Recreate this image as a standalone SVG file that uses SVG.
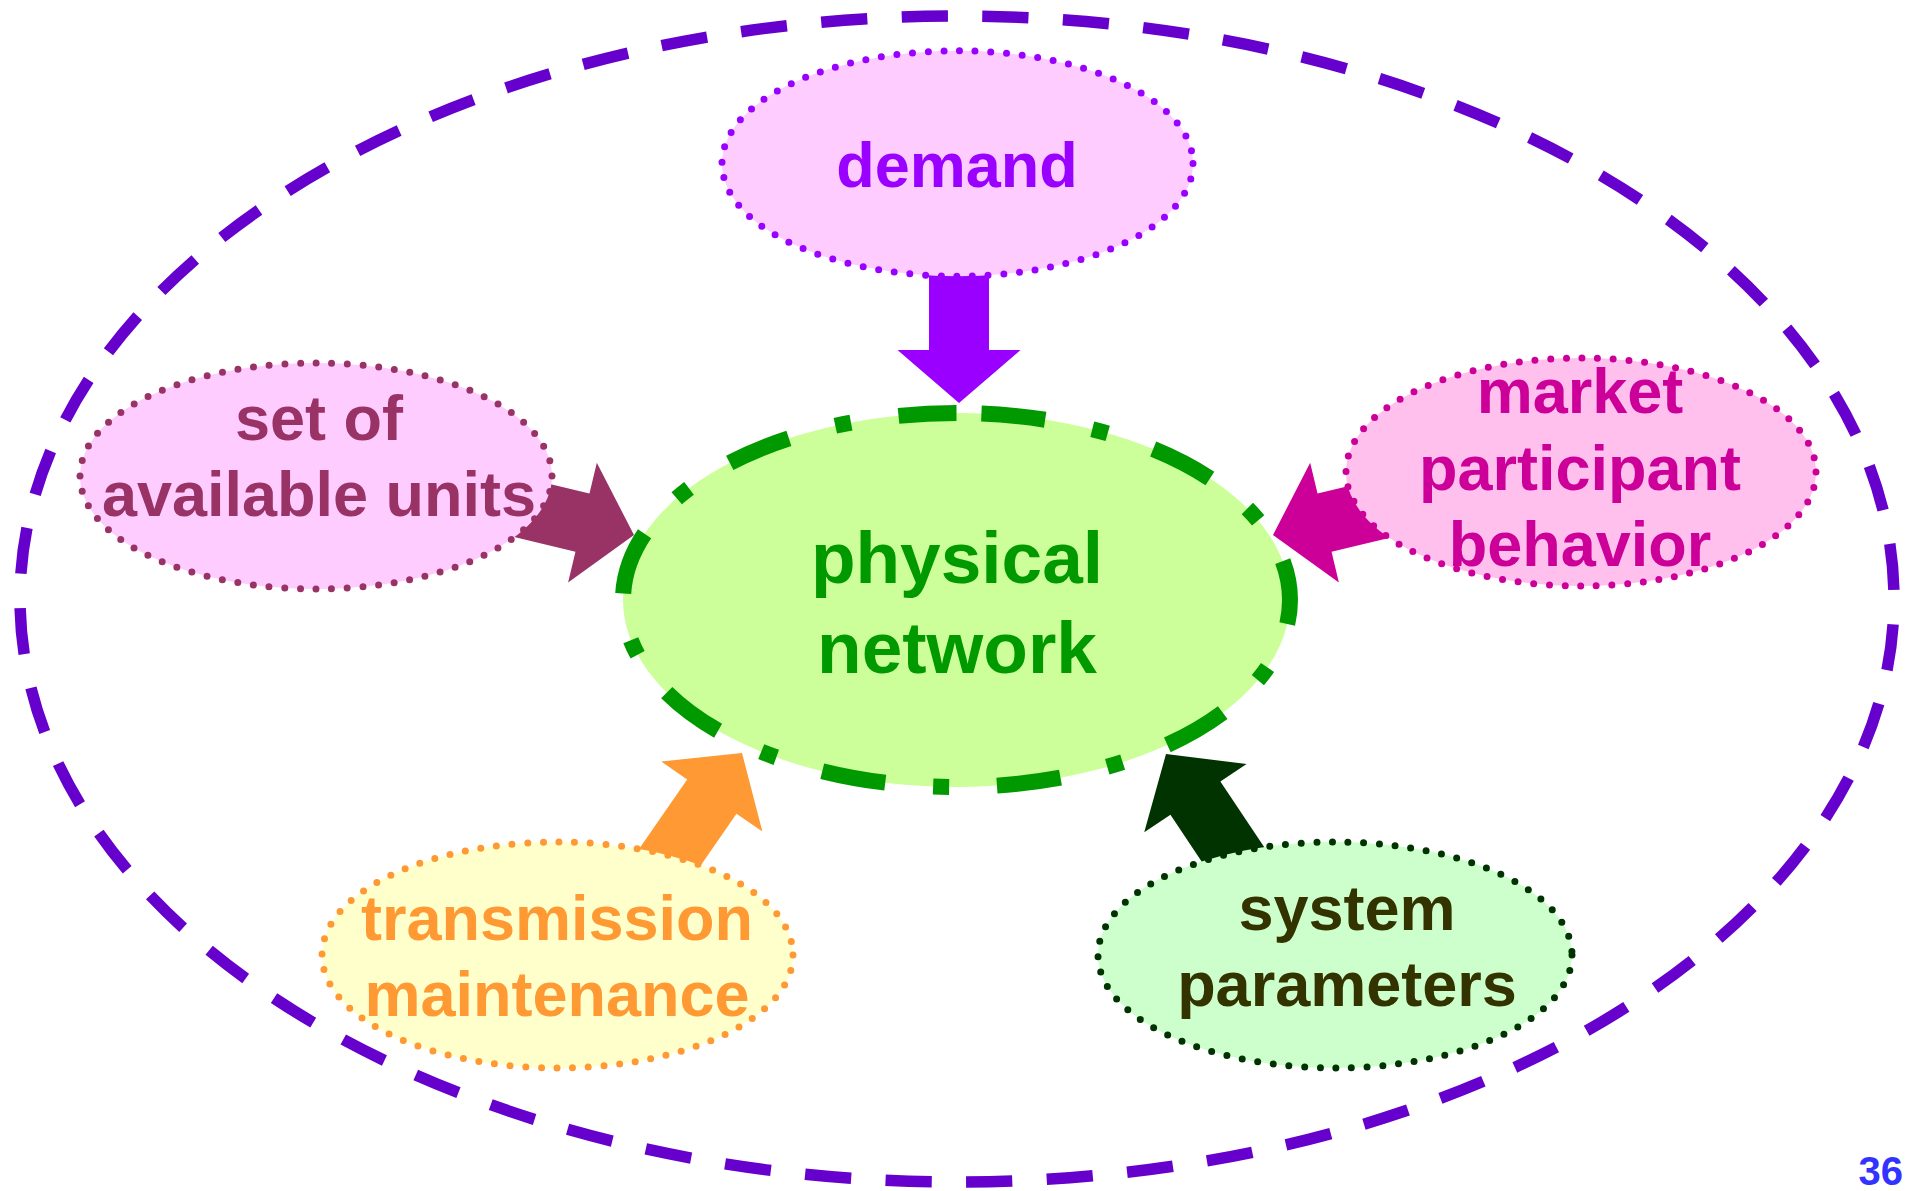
<svg xmlns="http://www.w3.org/2000/svg" width="1914" height="1191" viewBox="0 0 1914 1191">
  <style>
    text { font-family: "Liberation Sans", Arial, sans-serif; font-weight: bold; text-anchor: middle; }
    .node-shape { stroke-width: 7; stroke-dasharray: 0 15.7; stroke-linecap: round; }
    .lbl { font-size: 63px; }
  </style>
  <rect width="1914" height="1191" fill="#FFFFFF"/>

  <!-- outer boundary: ellipse traced clockwise from its top point -->
  <g id="boundary">
    <path d="M957,16 A937,583 0 1 1 957,1182 A937,583 0 1 1 957,16 Z" pathLength="6000" fill="none" stroke="#6600CC" stroke-width="11.5" stroke-dasharray="57.3 42.7" stroke-dashoffset="68.6"/>
  </g>

  <!-- block arrows into the physical network (tip at origin, pointing along +x) -->
  <g id="connectors">
    <polygon fill="#9900FF" transform="translate(959,403) rotate(90)" points="0,0 -53,-61.5 -53,-30 -163,-30 -163,30 -53,30 -53,61.5"/>
    <polygon fill="#993366" transform="translate(634,535) rotate(13.5)" points="0,0 -53,-61.5 -53,-30 -170,-30 -170,30 -53,30 -53,61.5"/>
    <polygon fill="#CC0099" transform="translate(1273,535) rotate(166.5)" points="0,0 -53,-61.5 -53,-30 -170,-30 -170,30 -53,30 -53,61.5"/>
    <polygon fill="#FF9933" transform="translate(742,753) rotate(-55.3)" points="0,0 -53,-61.5 -53,-30 -150,-30 -150,30 -53,30 -53,61.5"/>
    <polygon fill="#003300" transform="translate(1166,754) rotate(-123.7)" points="0,0 -53,-61.5 -53,-30 -150,-30 -150,30 -53,30 -53,61.5"/>
  </g>

  <g id="physical-network">
    <path d="M956.5,413 A333.5,187 0 1 1 956.5,787 A333.5,187 0 1 1 956.5,413 Z" fill="#CCFF99" stroke="#009900" stroke-width="16" stroke-dasharray="64 48 16 48" stroke-dashoffset="151"/>
    <text x="957" y="583" font-size="73" fill="#009900">physical</text>
    <text x="957" y="673" font-size="73" fill="#009900">network</text>
  </g>

  <g id="demand">
    <ellipse class="node-shape" cx="957.5" cy="163.5" rx="235.5" ry="112.7" fill="#FFCCFF" stroke="#9900FF"/>
    <text class="lbl" x="957" y="187" fill="#9900FF">demand</text>
  </g>

  <g id="available-units">
    <ellipse class="node-shape" cx="316" cy="476" rx="236" ry="113" fill="#FFCCFF" stroke="#993366"/>
    <text class="lbl" x="319" y="440" fill="#993366">set of</text>
    <text class="lbl" x="319" y="516" fill="#993366">available units</text>
  </g>

  <g id="market-behavior">
    <ellipse class="node-shape" cx="1581" cy="472" rx="235" ry="114" fill="#FFC0EE" stroke="#CC0099"/>
    <text class="lbl" x="1580" y="413" fill="#CC0099">market</text>
    <text class="lbl" x="1580" y="490" fill="#CC0099">participant</text>
    <text class="lbl" x="1580" y="566" fill="#CC0099">behavior</text>
  </g>

  <g id="transmission-maintenance">
    <ellipse class="node-shape" cx="557.5" cy="955" rx="235.5" ry="113" fill="#FFFFCC" stroke="#FF9933"/>
    <text class="lbl" x="557" y="940" fill="#FF9933">transmission</text>
    <text class="lbl" x="557" y="1016" fill="#FF9933">maintenance</text>
  </g>

  <g id="system-parameters">
    <ellipse class="node-shape" cx="1335" cy="955" rx="237" ry="113" fill="#CCFFCC" stroke="#003300"/>
    <text class="lbl" x="1347" y="930" fill="#333300">system</text>
    <text class="lbl" x="1347" y="1006" fill="#333300">parameters</text>
  </g>

  <text x="1903" y="1185" font-size="40" fill="#3333FF" style="text-anchor:end">36</text>
</svg>
